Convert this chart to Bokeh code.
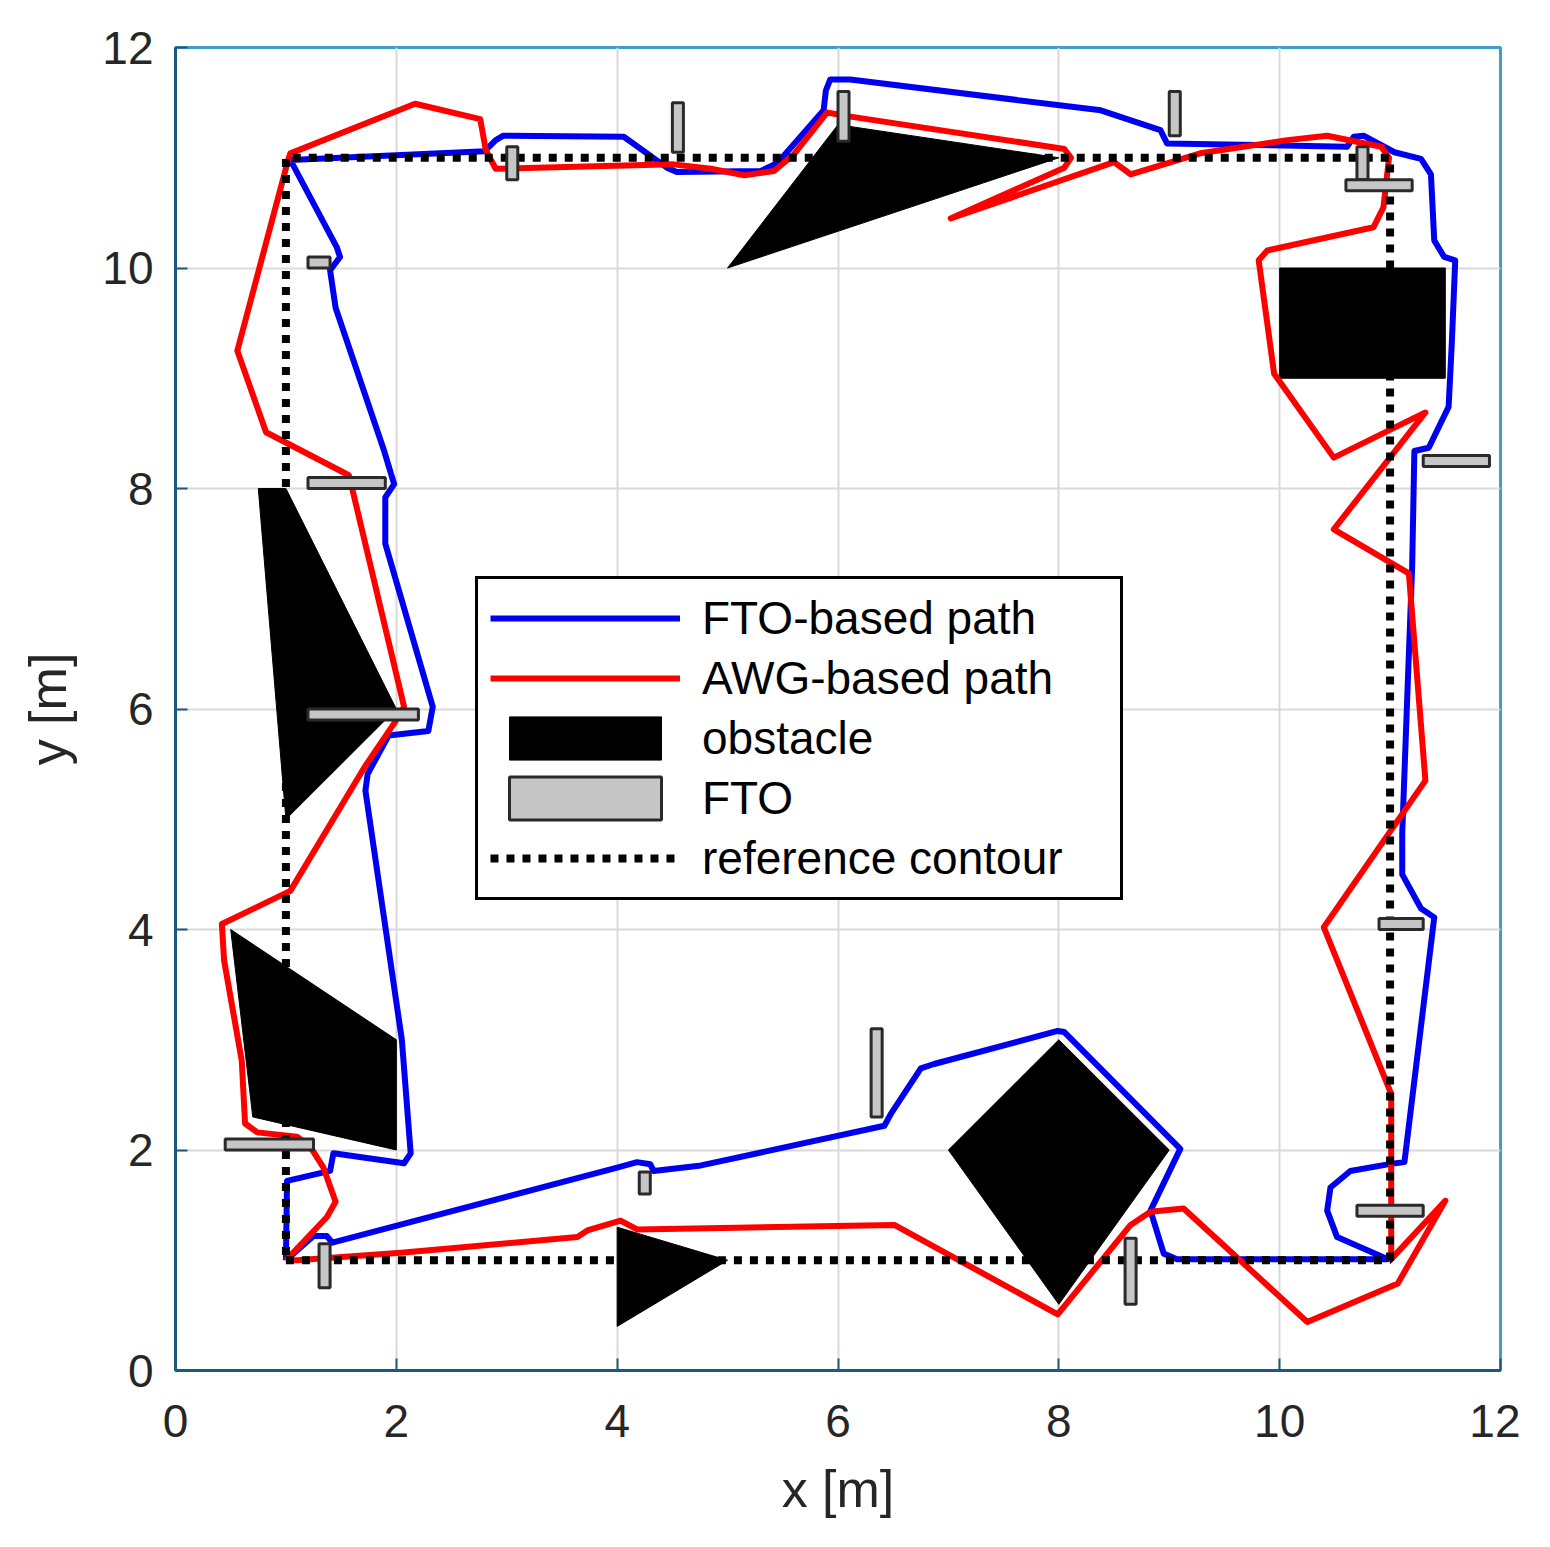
from bokeh.plotting import figure
from bokeh.models import Range1d, Legend, LegendItem, FixedTicker
from bokeh.embed import file_html
from bokeh.resources import INLINE

# ---------------- data ----------------
ticks = [0, 2, 4, 6, 8, 10, 12]

# reference contour
ref_x = [1, 11, 11, 1, 1]
ref_y = [1, 1, 11, 11, 1]

# FTO-based path (blue)
blue_x = [1.0, 1.25, 1.37, 1.42, 4.0, 4.18, 4.3, 4.33, 4.76, 6.42, 6.48, 6.75, 6.87, 7.99, 8.05,
          9.1, 8.83, 8.95, 9.07, 10.98, 10.52, 10.43, 10.46, 10.64, 10.98, 11.13, 11.4, 11.28,
          11.11, 11.11, 11.16, 11.2, 11.22, 11.35, 11.53, 11.56, 11.59, 11.49, 11.4, 11.37,
          11.28, 11.04, 10.76, 10.67, 10.61, 8.98, 8.92, 8.38, 6.11, 5.93, 5.89, 5.87, 5.45,
          5.3, 4.54, 4.45, 4.06, 2.97, 2.9, 2.8, 1.04, 1.46, 1.49, 1.4, 1.45, 1.89, 1.98, 1.9,
          1.9, 2.33, 2.29, 1.93, 1.74, 1.72, 2.05, 2.13, 2.07, 1.43, 1.4, 1.01, 1.0]
blue_y = [1.0, 1.22, 1.22, 1.16, 1.84, 1.89, 1.87, 1.81, 1.86, 2.22, 2.33, 2.74, 2.78, 3.08, 3.07,
          2.01, 1.45, 1.06, 1.01, 1.01, 1.21, 1.45, 1.66, 1.81, 1.87, 1.89, 4.11, 4.19,
          4.5, 4.87, 6.23, 7.29, 8.34, 8.37, 8.74, 9.34, 10.07, 10.1, 10.25, 10.85,
          10.99, 11.05, 11.2, 11.19, 11.1, 11.13, 11.25, 11.43, 11.71, 11.71, 11.61, 11.43, 10.95,
          10.88, 10.87, 10.91, 11.19, 11.2, 11.16, 11.06, 10.98, 10.19, 10.1, 9.98, 9.64, 8.34, 8.04, 7.92,
          7.5, 6.02, 5.8, 5.76, 5.41, 5.26, 3.0, 1.97, 1.88, 1.97, 1.81, 1.72, 1.0]

# AWG-based path (red)
red_x = [1.0, 1.1, 2.07, 3.64, 3.73, 4.03, 4.18, 6.51, 7.99, 8.65, 8.83, 9.13, 10.25, 11.07,
         11.5, 11.01, 11.01, 10.4, 11.32, 11.17, 10.49, 11.32, 10.49, 9.95, 9.81, 9.89, 10.85,
         10.94, 10.99, 10.92, 10.43, 10.07, 9.28, 8.65, 8.5, 7.02, 8.05, 8.11, 8.05, 6.07, 5.9,
         5.6, 5.42, 5.15, 4.85, 4.51, 2.9, 2.81, 2.76, 2.17, 1.04, 1.02, 0.56, 0.82, 1.57, 1.6,
         2.07, 1.98, 1.71, 1.04, 0.42, 0.44, 0.6, 0.63, 0.74, 1.1, 1.22, 1.34, 1.45, 1.37, 1.0]
red_y = [1.0, 1.0, 1.07, 1.21, 1.27, 1.36, 1.28, 1.32, 0.51, 1.32, 1.44, 1.47, 0.44, 0.79,
         1.54, 1.01, 2.51, 4.02, 5.35, 7.23, 7.63, 8.69, 8.28, 9.04, 10.07, 10.16, 10.37,
         10.55, 11.0, 11.1, 11.2, 11.16, 11.04, 10.85, 10.96, 10.45, 10.91, 11.0, 11.08, 11.38, 11.41,
         11.03, 10.88, 10.84, 10.9, 10.94, 10.9, 11.07, 11.35, 11.49, 11.04, 10.98, 9.25, 8.51, 8.12, 8.0,
         6.02, 5.87, 5.47, 4.35, 4.05, 3.72, 2.81, 2.24, 2.16, 2.12, 2.03, 1.84, 1.53, 1.39, 1.0]

# obstacles (polygons)
obstacle_xs = [[5.0, 6.0, 8.0],
               [10.0, 11.5, 11.5, 10.0],
               [0.75, 1.0, 2.0, 1.0],
               [0.5, 2.0, 2.0, 0.7],
               [4.0, 5.0, 4.0],
               [8.0, 9.0, 8.0, 7.0]]
obstacle_ys = [[10.0, 11.3, 11.0],
               [9.0, 9.0, 10.0, 10.0],
               [8.0, 8.0, 6.0, 5.0],
               [4.0, 3.0, 2.0, 2.3],
               [1.3, 1.0, 0.4],
               [3.0, 2.0, 0.6, 2.0]]

# FTOs (rectangles)
fto_left = [1.2, 1.2, 3.0, 4.5, 6.0, 9.0, 10.7, 10.6, 11.3, 1.2, 0.45, 1.3, 4.2, 6.3, 8.6, 10.7, 10.9]
fto_right = [1.4, 1.9, 3.1, 4.6, 6.1, 9.1, 10.8, 11.2, 11.9, 2.2, 1.25, 1.4, 4.3, 6.4, 8.7, 11.3, 11.3]
fto_bottom = [10.0, 8.0, 10.8, 11.05, 11.15, 11.2, 10.8, 10.7, 8.2, 5.9, 2.0, 0.75, 1.6, 2.3, 0.6, 1.4, 4.0]
fto_top = [10.1, 8.1, 11.1, 11.5, 11.6, 11.6, 11.1, 10.8, 8.3, 6.0, 2.1, 1.15, 1.8, 3.1, 1.2, 1.5, 4.1]

# ---------------- figure ----------------
FONT = "Liberation Sans"
p = figure(frame_width=1325, frame_height=1323,
           x_range=Range1d(0, 12), y_range=Range1d(0, 12),
           output_backend="svg", toolbar_location=None,
           min_border_left=175, min_border_top=47, min_border_right=20, min_border_bottom=150,
           background_fill_color="white", border_fill_color="white")

obs = p.patches(obstacle_xs, obstacle_ys, fill_color="black", line_color="black", line_width=1)
blue = p.line(blue_x, blue_y, line_color="#0000f0", line_width=6, line_join="round")
red = p.line(red_x, red_y, line_color="#ff0000", line_width=6, line_join="round")
ref = p.line(ref_x, ref_y, line_color="black", line_width=8, line_dash="8 8")
fto = p.quad(left=fto_left, right=fto_right, bottom=fto_bottom, top=fto_top,
             fill_color="#c6c6c6", line_color="#2a2a2a", line_width=3)

# axes
for ax in (p.xaxis, p.yaxis):
    ax.ticker = FixedTicker(ticks=ticks)
    ax.minor_tick_line_color = None
    ax.major_tick_in = 12
    ax.major_tick_out = 0
    ax.major_tick_line_color = "#1c5a7c"
    ax.major_tick_line_width = 2
    ax.axis_line_color = "#1c5a7c"
    ax.axis_line_width = 3
    ax.major_label_text_font = FONT
    ax.major_label_text_font_size = "46px"
    ax.major_label_text_color = "#262626"
    ax.axis_label_text_font = FONT
    ax.axis_label_text_font_size = "52px"
    ax.axis_label_text_font_style = "normal"
    ax.axis_label_text_color = "#262626"

p.xaxis.axis_label = "x [m]"
p.yaxis.axis_label = "y [m]"
p.xaxis.major_label_standoff = 34
p.yaxis.major_label_standoff = 22
p.xaxis.axis_label_standoff = 20
p.yaxis.axis_label_standoff = 22

p.grid.ticker = FixedTicker(ticks=ticks)
p.grid.grid_line_color = "#d9d9d9"
p.grid.grid_line_width = 2

p.outline_line_color = "#3f9fcc"
p.outline_line_width = 3

legend = Legend(items=[
    LegendItem(label="FTO-based path", renderers=[blue]),
    LegendItem(label="AWG-based path", renderers=[red]),
    LegendItem(label="obstacle", renderers=[obs]),
    LegendItem(label="FTO", renderers=[fto]),
    LegendItem(label="reference contour", renderers=[ref]),
], location=(300, 470))
legend.label_text_font = FONT
legend.label_text_font_size = "46px"
legend.label_text_color = "black"
legend.glyph_width = 190
legend.glyph_height = 54
legend.spacing = 6
legend.padding = 12
legend.margin = 0
legend.label_standoff = 22
legend.label_width = 406
legend.border_line_color = "black"
legend.border_line_width = 3
legend.border_line_alpha = 1.0
legend.background_fill_color = "white"
legend.background_fill_alpha = 1.0
p.add_layout(legend)

open("out.html", "w").write(file_html(p, INLINE))
